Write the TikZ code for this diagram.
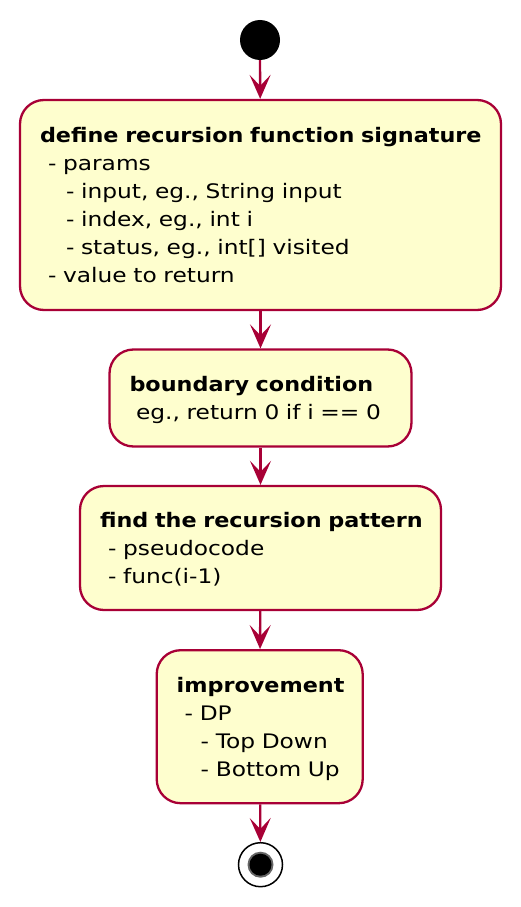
\documentclass[tikz,border=0pt]{standalone}
\usepackage{fontspec}
\setmainfont{DejaVu Sans}[FakeStretch=1.165, BoldFeatures={FakeStretch=1.115}]
\usetikzlibrary{arrows.meta}
\definecolor{umlred}{HTML}{A80036}
\definecolor{umlfill}{HTML}{FEFECE}
\tikzset{
  act/.style={draw=umlred, fill=umlfill, line width=2.3pt, rounded corners=24pt,
    align=left, inner xsep=20pt, inner ysep=0pt,
    font=\fontsize{20}{28}\selectfont},
  flow/.style={draw=umlred, line width=2.3pt,
    -{Stealth[length=24pt,width=21pt,inset=11pt]}},
}
\newcommand{\indA}{\hspace*{8pt}}
\newcommand{\indB}{\hspace*{26pt}}
\newcommand{\acttitle}[1]{\mbox{\textbf{#1}}}
\begin{document}
\begin{tikzpicture}[x=1pt,y=-1pt]
\useasboundingbox (0,0) rectangle (520,907);
\node[circle, fill=black, minimum size=40pt, inner sep=0pt] (start) at (260,40) {};
\node[act, text width=441pt, minimum height=210pt] (b1) at (260.5,205)
  {\acttitle{define recursion function signature}\\
   \indA- params\\
   \indB- input, eg., String input\\
   \indB- index, eg., int i\\
   \indB- status, eg., int[] visited\\
   \indA- value to return};
\node[act, text width=262pt, minimum height=97pt] (b2) at (260.5,398)
  {\acttitle{boundary condition}\\
   \smash{\hspace*{6.5pt}eg., return 0 if i == 0}};
\node[act, text width=321pt, minimum height=124pt] (b3) at (260.5,548)
  {\acttitle{find the recursion pattern}\\
   \indA- pseudocode\\
   \smash{\indA- func(i-1)}};
\node[act, text width=166pt, minimum height=153pt] (b4) at (259.7,726.7)
  {\acttitle{improvement}\\
   \indA- DP\\
   \hspace*{24pt}- Top Down\\
   \smash{\hspace*{24pt}- Bottom Up}};
\node[circle, draw=black, fill=white, line width=1.5pt, minimum size=44pt, inner sep=0pt] (end) at (260.5,864.7) {};
\node[circle, fill=black!60, minimum size=26pt, inner sep=0pt] (endring) at (end.center) {};
\node[circle, fill=black, minimum size=22pt, inner sep=0pt] (enddot) at (end.center) {};
\draw[flow] (start) -- (b1);
\draw[flow] (b1) -- (b2);
\draw[flow] (b2) -- (b3);
\draw[flow] (b3) -- (b4);
\draw[flow] (b4) -- (end);
\end{tikzpicture}
\end{document}
